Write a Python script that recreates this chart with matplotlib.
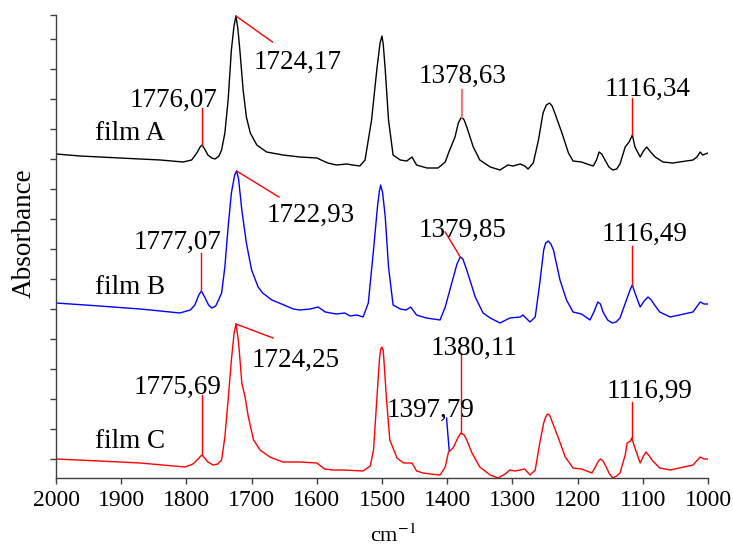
import matplotlib
matplotlib.use("Agg")
import matplotlib.pyplot as plt
import numpy as np

plt.rcParams["font.family"] = ["Liberation Serif", "DejaVu Serif"]
plt.rcParams["mathtext.fontset"] = "stix"

# spectra as plotted (stacked, arbitrary absorbance units)
wn_a = [2000, 1963, 1902, 1840, 1805, 1792, 1784, 1779, 1776, 1772, 1767, 1761,
        1756, 1750, 1746, 1741, 1736, 1731, 1727, 1724, 1721, 1718, 1713, 1708,
        1702, 1692, 1677, 1652, 1626, 1600, 1590, 1583, 1570, 1554, 1545, 1534,
        1526, 1516, 1508, 1503, 1500, 1498, 1495, 1490, 1483, 1472, 1462, 1454,
        1447, 1431, 1414, 1403, 1398, 1388, 1383, 1378, 1374, 1370, 1360, 1350,
        1334, 1319, 1307, 1299, 1288, 1281, 1276, 1268, 1260, 1253, 1248, 1243,
        1239, 1235, 1224, 1214, 1207, 1194, 1181, 1176, 1171, 1167, 1163, 1158,
        1152, 1146, 1140, 1135, 1127, 1121, 1116, 1112, 1104, 1099, 1094, 1088,
        1081, 1069, 1054, 1023, 1017, 1012, 1008, 1000]
abs_a = [3.05, 3.03, 3.01, 2.99, 2.97, 2.99, 3.06, 3.12, 3.14, 3.10, 3.04, 3.01,
         3.00, 3.03, 3.09, 3.26, 3.59, 4.09, 4.33, 4.43, 4.30, 4.09, 3.69, 3.42,
         3.26, 3.14, 3.07, 3.04, 3.02, 3.01, 2.98, 2.96, 2.94, 2.95, 2.94, 2.93,
         2.99, 3.39, 3.89, 4.16, 4.23, 4.14, 3.89, 3.39, 3.04, 2.99, 2.98, 3.02,
         2.94, 2.91, 2.91, 2.97, 3.06, 3.22, 3.36, 3.42, 3.39, 3.32, 3.12, 2.99,
         2.92, 2.89, 2.94, 2.93, 2.95, 2.93, 2.90, 2.96, 3.19, 3.46, 3.54, 3.56,
         3.53, 3.46, 3.26, 3.06, 2.98, 2.97, 2.94, 2.93, 2.99, 3.07, 3.05, 2.99,
         2.92, 2.89, 2.90, 2.95, 3.12, 3.17, 3.24, 3.12, 3.02, 3.08, 3.12, 3.07,
         3.02, 2.97, 2.96, 2.99, 3.02, 3.07, 3.04, 3.06]

wn_b = [2000, 1933, 1871, 1840, 1810, 1794, 1787, 1781, 1777, 1772, 1766, 1761,
        1755, 1746, 1741, 1736, 1731, 1726, 1723, 1720, 1715, 1708, 1700, 1690,
        1683, 1669, 1654, 1636, 1626, 1610, 1598, 1587, 1570, 1557, 1549, 1539,
        1529, 1521, 1513, 1507, 1504, 1502, 1499, 1495, 1490, 1483, 1472, 1463,
        1456, 1447, 1432, 1411, 1403, 1393, 1385, 1380, 1376, 1370, 1357, 1345,
        1334, 1319, 1304, 1288, 1284, 1273, 1265, 1258, 1252, 1249, 1245, 1241,
        1237, 1227, 1217, 1207, 1194, 1181, 1175, 1169, 1165, 1161, 1154, 1147,
        1141, 1135, 1124, 1119, 1116, 1112, 1104, 1098, 1092, 1087, 1082, 1074,
        1058, 1023, 1012, 1006, 1000]
abs_b = [1.56, 1.53, 1.50, 1.48, 1.46, 1.49, 1.54, 1.64, 1.68, 1.62, 1.54, 1.51,
         1.53, 1.66, 1.92, 2.32, 2.66, 2.84, 2.88, 2.80, 2.49, 2.16, 1.89, 1.72,
         1.66, 1.59, 1.55, 1.50, 1.49, 1.50, 1.52, 1.47, 1.45, 1.46, 1.43, 1.44,
         1.42, 1.56, 2.09, 2.52, 2.68, 2.74, 2.66, 2.42, 1.92, 1.54, 1.50, 1.49,
         1.52, 1.44, 1.41, 1.39, 1.52, 1.76, 1.95, 2.02, 2.00, 1.89, 1.62, 1.46,
         1.41, 1.36, 1.41, 1.42, 1.44, 1.37, 1.42, 1.76, 2.09, 2.16, 2.18, 2.15,
         2.09, 1.79, 1.59, 1.47, 1.45, 1.39, 1.47, 1.57, 1.55, 1.47, 1.39, 1.36,
         1.37, 1.41, 1.61, 1.70, 1.74, 1.66, 1.52, 1.58, 1.62, 1.59, 1.54, 1.47,
         1.42, 1.47, 1.57, 1.55, 1.55]

wn_c = [2000, 1933, 1871, 1802, 1790, 1782, 1778, 1776, 1772, 1767, 1759, 1752,
        1746, 1741, 1736, 1731, 1727, 1724, 1721, 1719, 1715, 1710, 1705, 1697,
        1687, 1672, 1652, 1626, 1600, 1594, 1588, 1575, 1560, 1529, 1518, 1513,
        1508, 1504, 1502, 1500, 1498, 1493, 1488, 1477, 1467, 1460, 1454, 1447,
        1437, 1426, 1411, 1403, 1398, 1391, 1383, 1379, 1374, 1370, 1362, 1350,
        1334, 1322, 1311, 1304, 1296, 1288, 1281, 1273, 1265, 1258, 1252, 1249,
        1246, 1243, 1240, 1230, 1219, 1207, 1194, 1178, 1172, 1168, 1165, 1161,
        1157, 1151, 1146, 1140, 1135, 1127, 1124, 1119, 1117, 1112, 1104, 1099,
        1095, 1090, 1086, 1074, 1058, 1023, 1012, 1006, 1000]
abs_c = [0.00, -0.02, -0.04, -0.08, -0.05, 0.00, 0.03, 0.04, 0.01, -0.03, -0.06, -0.05,
         -0.01, 0.22, 0.59, 0.99, 1.25, 1.35, 1.22, 1.09, 0.76, 0.62, 0.42, 0.19,
         0.09, 0.02, -0.03, -0.03, -0.04, -0.07, -0.10, -0.11, -0.11, -0.12, -0.07, 0.09,
         0.59, 0.99, 1.10, 1.12, 1.08, 0.59, 0.19, 0.01, -0.04, -0.04, -0.04, -0.12,
         -0.14, -0.15, -0.16, -0.08, 0.07, 0.11, 0.22, 0.26, 0.24, 0.19, 0.06, -0.08,
         -0.16, -0.19, -0.15, -0.11, -0.12, -0.11, -0.10, -0.16, -0.11, 0.16, 0.36, 0.42,
         0.45, 0.44, 0.39, 0.22, 0.02, -0.09, -0.10, -0.14, -0.07, -0.02, 0.00, -0.02,
         -0.07, -0.15, -0.19, -0.17, -0.14, 0.04, 0.16, 0.18, 0.21, 0.11, -0.04, 0.03,
         0.07, 0.03, -0.01, -0.09, -0.11, -0.06, 0.02, 0.00, 0.00]

film_names = ["film A", "film B", "film C"]
x_ticks = [2000, 1900, 1800, 1700, 1600, 1500, 1400, 1300, 1200, 1100, 1000]

fig = plt.figure(figsize=(7.33, 5.51), dpi=100)
ax = fig.add_axes([56 / 733, 73 / 551, 652 / 733, 463 / 551])

ax.plot(wn_a, abs_a, color="black", lw=1.0)
ax.plot(wn_b, abs_b, color="blue", lw=1.0)
ax.plot(wn_c, abs_c, color="red", lw=1.0)

# peak labels: (text, text x, text y, line from, line to, line colour)
labels = [
    ("1776,07", 1819, 3.59, (1776, 3.51), (1776, 3.14), "red"),
    ("1724,17", 1629, 3.97, (1668, 4.17), (1724, 4.43), "red"),
    ("1378,63", 1376, 3.83, (1378, 3.69), (1378, 3.42), "#f07878"),
    ("1116,34", 1092, 3.70, (1116, 3.61), (1116, 3.24), "red"),
    ("1777,07", 1813, 2.17, (1777, 2.06), (1777, 1.68), "red"),
    ("1722,93", 1609, 2.44, (1658, 2.62), (1723, 2.88), "red"),
    ("1379,85", 1377, 2.29, (1403, 2.27), (1380, 2.02), "red"),
    ("1116,49", 1098, 2.25, (1116, 2.13), (1116, 1.74), "red"),
    ("1775,69", 1813, 0.72, (1776, 0.64), (1776, 0.04), "red"),
    ("1724,25", 1633, 0.99, (1667, 1.21), (1724, 1.35), "red"),
    ("1380,11", 1359, 1.11, (1379, 1.06), (1379, 0.26), "red"),
    ("1397,79", 1426, 0.49, (1401, 0.41), (1397, 0.09), "blue"),
    ("1116,99", 1089, 0.68, (1117, 0.57), (1117, 0.21), "red"),
]
for txt, tx, ty, p0, p1, col in labels:
    lw = 1.6 if txt == "1378,63" else 1.0
    ax.plot([p0[0], p1[0]], [p0[1], p1[1]], color=col, lw=lw)
    ax.text(tx, ty, txt, fontsize=19.5, ha="center", va="center")

for name, ty in zip(film_names, [3.26, 1.72, 0.18]):
    ax.text(1887, ty, name, fontsize=19.5, ha="center", va="center")

ax.set_xlim(2000, 1000)
ax.set_ylim(-0.19, 4.44)
ax.set_xticks(x_ticks)
ax.set_xticklabels([str(t) for t in x_ticks], fontsize=17)
ax.set_yticks(list(np.arange(0, 4.3, 0.3)) + [4.44])
ax.set_yticklabels([])
ax.tick_params(axis="both", direction="out", length=4, width=1.0, color="#404040")
ax.tick_params(axis="x", pad=5)

for side in ["top", "right"]:
    ax.spines[side].set_visible(False)
for side in ["left", "bottom"]:
    ax.spines[side].set_color("#404040")
    ax.spines[side].set_linewidth(1.0)

ax.set_xlabel("cm$^{-1}$", fontsize=16)
ax.xaxis.set_label_coords(0.517, -0.10)
ax.set_ylabel("Absorbance", fontsize=19.5)
ax.yaxis.label.set_va("center")
ax.yaxis.set_label_coords(-0.049, 0.529)

fig.savefig("out.png", dpi=100)
